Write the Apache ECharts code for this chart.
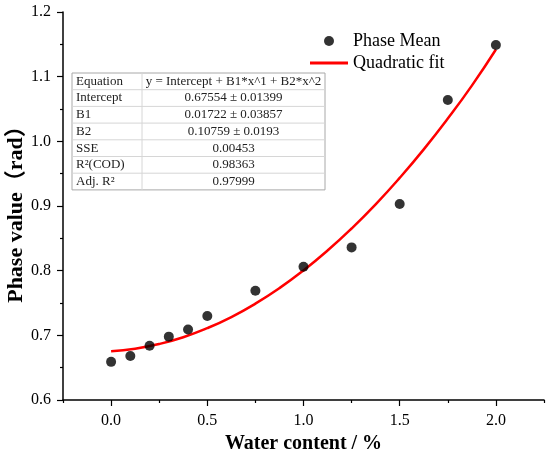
<!DOCTYPE html>
<html>
<head>
<meta charset="utf-8">
<script src="https://cdn.jsdelivr.net/npm/echarts@6/dist/echarts.min.js"></script>
<style>
  html, body { margin: 0; padding: 0; background: #fff; }
  #chart { width: 550px; height: 452px; }
</style>
</head>
<body>
<div id="chart"></div>
<script>
const waterContent = [0, 0.1, 0.2, 0.3, 0.4, 0.5, 0.75, 1.0, 1.25, 1.5, 1.75, 2.0];
const phaseMean = [0.659, 0.668, 0.684, 0.698, 0.709, 0.730, 0.769, 0.806, 0.836, 0.903, 1.064, 1.149];

// Courbe d'ajustement, relevée le long du tracé rouge
const fitX = [0, 0.125, 0.25, 0.375, 0.5, 0.625, 0.75, 0.875, 1.0, 1.125, 1.25, 1.375, 1.5, 1.625, 1.75, 1.875, 2.0];
const fitY = [0.6755, 0.6794, 0.6866, 0.6971, 0.7111, 0.7283, 0.7490, 0.7730, 0.8004, 0.8311,
  0.8652, 0.9026, 0.9435, 0.9876, 1.0352, 1.0861, 1.1420];

const xLabelValues = [0, 0.5, 1.0, 1.5, 2.0];

// Tableau des paramètres de l'ajustement
const tableRows = [
  ['Equation', 'y = Intercept + B1*x^1 + B2*x^2'],
  ['Intercept', '0.67554 ± 0.01399'],
  ['B1', '0.01722 ± 0.03857'],
  ['B2', '0.10759 ± 0.0193'],
  ['SSE', '0.00453'],
  ['R²(COD)', '0.98363'],
  ['Adj. R²', '0.97999'],
];

const FONT = '"Liberation Serif", "Times New Roman", serif';
const TITLE_FONT = '"Liberation Serif", "Noto Sans CJK SC", serif';

function buildTable() {
  const x0 = 72, y0 = 73, w = 253, rowH = 16.7, colX = 142;
  const h = rowH * tableRows.length;
  const els = [{
    type: 'rect', shape: { x: x0, y: y0, width: w, height: h },
    style: { fill: '#fff', stroke: '#a8a8a8', lineWidth: 1 }, z: 10,
  }, {
    type: 'line', shape: { x1: colX, y1: y0, x2: colX, y2: y0 + h },
    style: { stroke: '#d6d6d6', lineWidth: 1 }, z: 11,
  }];
  tableRows.forEach(([k, v], i) => {
    const cy = y0 + rowH * i + rowH / 2;
    if (i > 0) {
      els.push({
        type: 'line', shape: { x1: x0, y1: y0 + rowH * i, x2: x0 + w, y2: y0 + rowH * i },
        style: { stroke: '#d6d6d6', lineWidth: 1 }, z: 11,
      });
    }
    els.push({
      type: 'text', x: x0 + 4, y: cy, z: 12,
      style: { text: k, font: `13px ${FONT}`, fill: '#222', verticalAlign: 'middle', align: 'left' },
    });
    els.push({
      type: 'text', x: (colX + x0 + w) / 2, y: cy, z: 12,
      style: { text: v, font: `13px ${FONT}`, fill: '#222', verticalAlign: 'middle', align: 'center' },
    });
  });
  return els;
}

const legendText = { fontFamily: FONT, fontSize: 18, color: '#000' };

const chart = echarts.init(document.getElementById('chart'), null, { renderer: 'canvas' });
chart.setOption({
  backgroundColor: '#fff',
  animation: false,
  textStyle: { fontFamily: FONT, color: '#000' },
  grid: { left: 63, right: 6, top: 12, bottom: 52, outerBoundsMode: 'none', containLabel: false },
  // deux légendes : le point et le trait n'ont pas la même hauteur d'icône
  legend: [{
    orient: 'vertical', left: 319, top: 27, padding: 5,
    itemWidth: 38, itemHeight: 10,
    textStyle: legendText,
    data: [{ name: 'Phase Mean', icon: 'circle' }],
  }, {
    orient: 'vertical', left: 305, top: 49, padding: 5,
    itemWidth: 38, itemHeight: 3,
    textStyle: legendText,
    data: [{ name: 'Quadratic fit', icon: 'rect' }],
  }],
  xAxis: {
    type: 'value', min: -0.25, max: 2.25, interval: 0.5,
    name: 'Water content / %', nameLocation: 'middle', nameGap: 26,
    nameTextStyle: { fontFamily: FONT, fontSize: 20, fontWeight: 'bold', color: '#000' },
    axisLine: { onZero: false, lineStyle: { color: '#000', width: 1.5 } },
    // les ticks "interval" tombent sur les quarts impairs -> courts ; les mineurs sur 0, 0.5... -> longs
    axisTick: { show: true, length: 3, lineStyle: { color: '#000', width: 1.2 } },
    minorTick: { show: true, splitNumber: 2, length: 6, lineStyle: { color: '#000', width: 1.2 } },
    axisLabel: {
      customValues: xLabelValues, margin: 13,
      fontFamily: FONT, fontSize: 16, color: '#000',
      formatter: (v) => v.toFixed(1),
    },
    splitLine: { show: false },
  },
  yAxis: {
    type: 'value', min: 0.6, max: 1.2, interval: 0.1,
    name: 'Phase value（rad）', nameLocation: 'middle', nameGap: 36, nameMoveOverlap: false,
    nameTextStyle: { fontFamily: TITLE_FONT, fontSize: 22, fontWeight: 'bold', color: '#000', padding: [0, 6, 0, 0] },
    axisLine: { show: true, onZero: false, lineStyle: { color: '#000', width: 1.5 } },
    axisTick: { show: true, length: 6, lineStyle: { color: '#000', width: 1.2 } },
    minorTick: { show: true, splitNumber: 2, length: 3, lineStyle: { color: '#000', width: 1.2 } },
    axisLabel: {
      margin: 12, fontFamily: FONT, fontSize: 16, color: '#000',
      formatter: (v) => v.toFixed(1),
    },
    splitLine: { show: false },
  },
  series: [
    {
      name: 'Quadratic fit', type: 'line', smooth: true,
      showSymbol: false, symbol: 'none',
      lineStyle: { color: '#ff0000', width: 2.5 },
      itemStyle: { color: '#ff0000' },
      data: fitX.map((x, i) => [x, fitY[i]]),
      z: 2,
    },
    {
      name: 'Phase Mean', type: 'scatter', symbol: 'circle', symbolSize: 10,
      itemStyle: { color: '#000' },
      data: waterContent.map((x, i) => [x, phaseMean[i]]),
      z: 3,
    },
  ],
  graphic: buildTable(),
});
</script>
</body>
</html>
